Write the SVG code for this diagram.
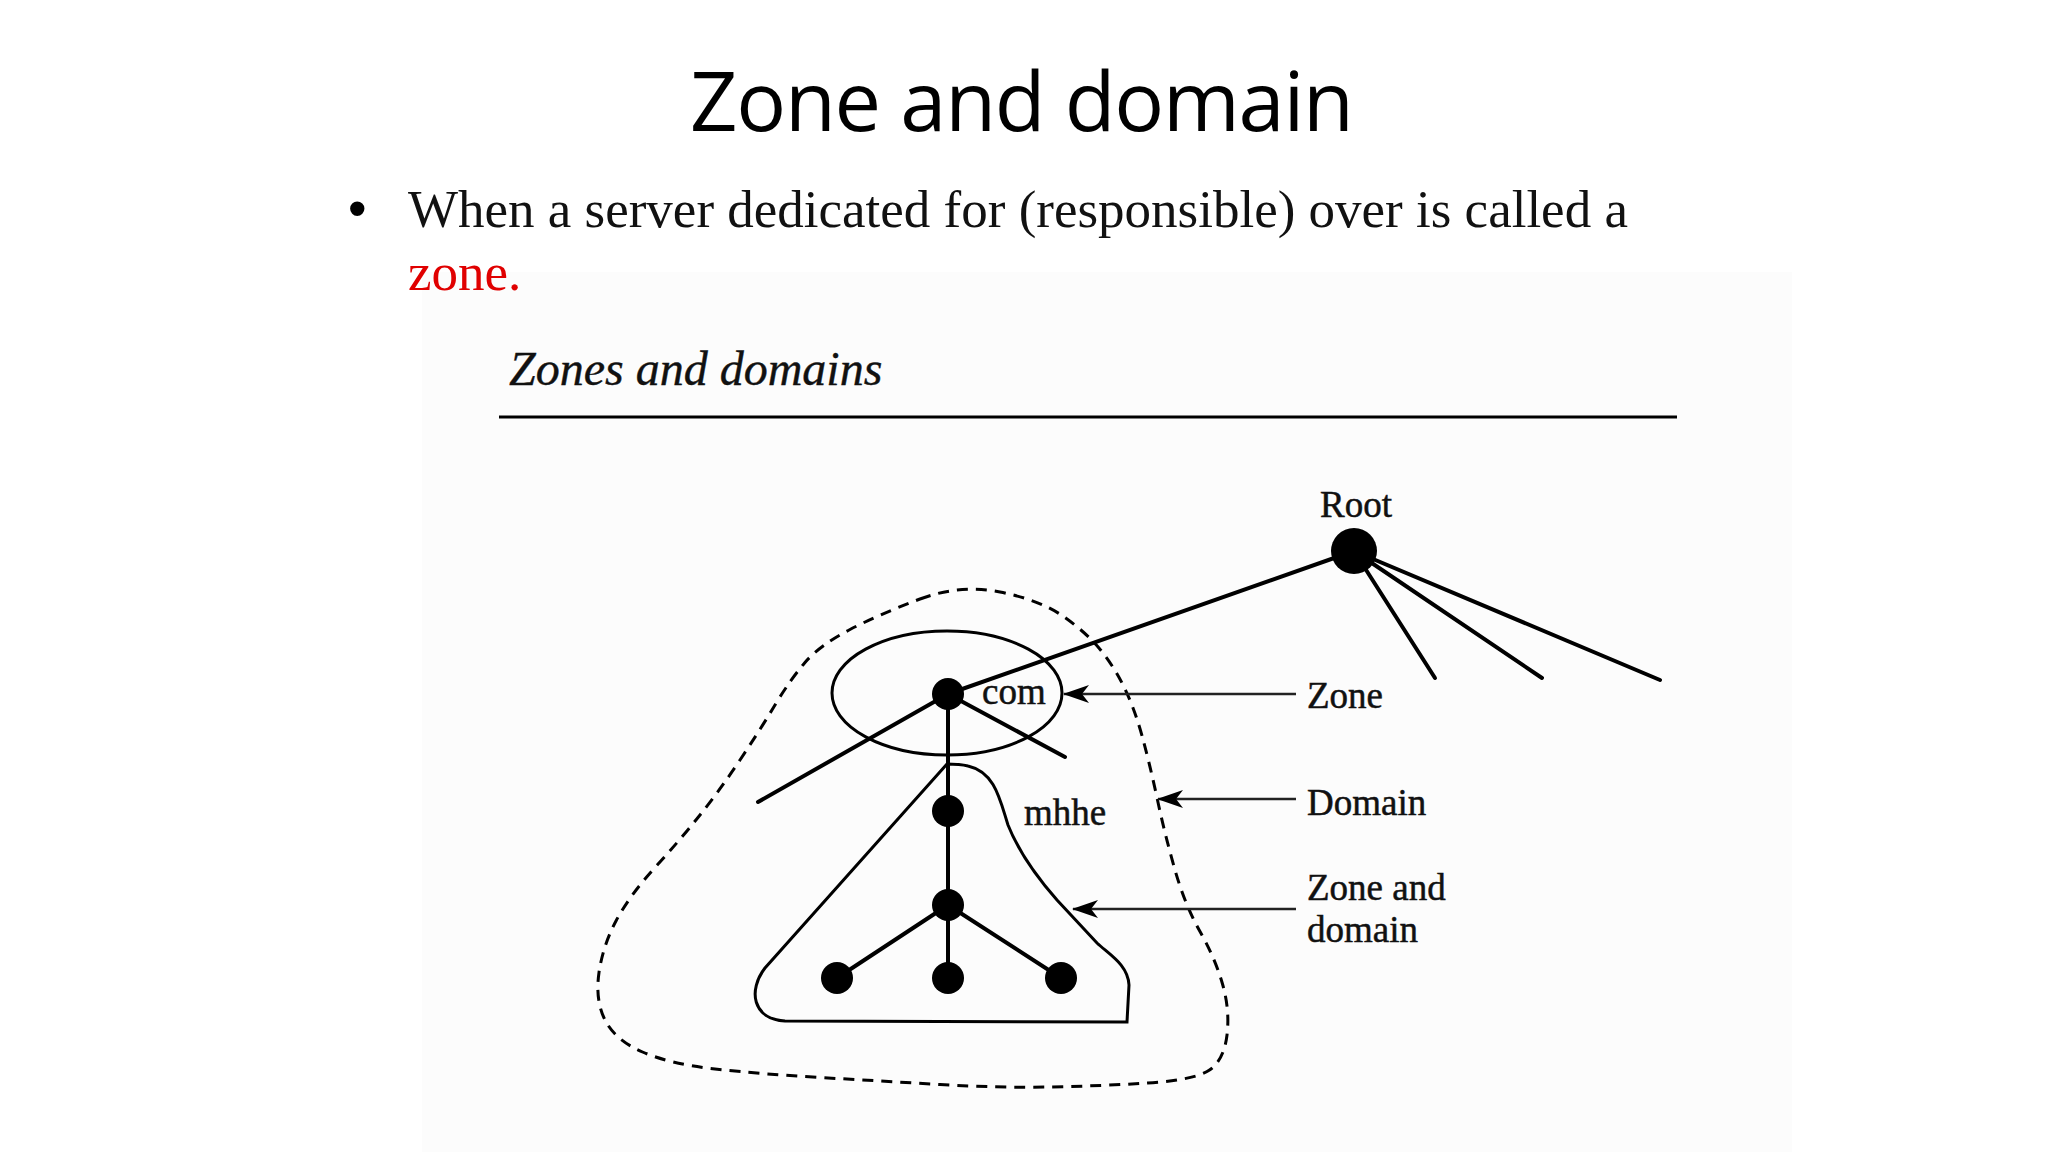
<svg xmlns="http://www.w3.org/2000/svg" width="2048" height="1152" viewBox="0 0 2048 1152">
<style>
.serif{font-family:"Liberation Serif","Times New Roman",serif;fill:#111}
.lbl{font-size:37px;stroke:#111;stroke-width:0.5}
.edge{stroke:#000;stroke-width:4;stroke-linecap:round;fill:none}
.thin{stroke:#000;stroke-width:3;fill:none}
.arr{stroke:#222;stroke-width:2.5;fill:none;marker-end:url(#ah)}
.node{fill:#000}
</style>
<defs>
<marker id="ah" viewBox="0 0 26 20" refX="25" refY="10" markerWidth="26" markerHeight="20" markerUnits="userSpaceOnUse" orient="auto">
<path d="M26,10 L0,1 L7,10 L0,19 Z" fill="#000"/>
</marker>
</defs>
<rect width="2048" height="1152" fill="#fff"/>
<rect x="422" y="272" width="1370" height="880" fill="#fcfcfc"/>

<g id="title">
<text x="1022" y="131" text-anchor="middle" font-family="'Open Sans','Noto Sans',sans-serif" font-size="83" textLength="664" fill="#000">Zone and domain</text>
</g>
<g id="bullet">
<text x="348" y="227" font-family="'Liberation Sans',Arial,sans-serif" font-size="53" fill="#000">•</text>
<text class="serif" x="408" y="227" font-size="53">When a server dedicated for (responsible) over is called a</text>
<text x="408" y="290" font-family="'Liberation Serif','Times New Roman',serif" font-size="53" fill="#e00000">zone.</text>
</g>
<g id="figure-caption">
<text class="serif" x="509" y="385" font-size="48" font-style="italic" stroke="#111" stroke-width="0.4">Zones and domains</text>
<line x1="499" y1="417" x2="1677" y2="417" stroke="#000" stroke-width="3"/>
</g>

<g id="domain-outline">
<path d="M920,599 Q960,584 1000,592 Q1040,600 1063.5,616.5 Q1087,633 1101,650.5 Q1115,668 1125,689 Q1135,710 1142.5,737.5 Q1150,765 1157.5,800 Q1165,835 1175,870 Q1185,905 1200,931.5 Q1215,958 1222.5,984 Q1230,1010 1227,1035 Q1224,1060 1209.5,1070 Q1195,1080 1147.5,1083 Q1100,1086 1050,1087 Q1000,1088 940,1084.5 Q880,1081 820,1077.5 Q760,1074 715,1069 Q670,1064 642.5,1052 Q615,1040 605,1020 Q595,1000 599,972.5 Q603,945 616.5,920 Q630,895 655,867.5 Q680,840 700,815 Q720,790 740,760 Q760,730 775,705 Q790,680 805,662.5 Q820,645 850,629.5 Q880,614 920,599 Z" fill="none" stroke="#000" stroke-width="3" stroke-dasharray="11 8"/>
</g>
<g id="zone-outline">
<ellipse cx="947" cy="693" rx="115" ry="62" class="thin"/>
</g>
<g id="zone-and-domain-outline">
<path d="M947,764 L765,968 C748,990 752,1019 785,1021 L1127,1022 L1129,985 C1128,965 1110,955 1097,943 L1057,900 C1035,875 1018,850 1008,825 C1000,800 995,772 968,766 C960,764 952,764 947,764 Z" class="thin"/>
</g>

<g id="connectors">
<line class="edge" x1="1354" y1="551" x2="948" y2="694"/>
<line class="edge" x1="1354" y1="551" x2="1435" y2="678"/>
<line class="edge" x1="1354" y1="551" x2="1542" y2="678"/>
<line class="edge" x1="1354" y1="551" x2="1660" y2="680"/>
<line class="edge" x1="948" y1="694" x2="758" y2="802"/>
<line class="edge" x1="948" y1="694" x2="1065" y2="757"/>
<line class="edge" x1="948" y1="694" x2="948" y2="978"/>
<line class="edge" x1="948" y1="905" x2="837" y2="978"/>
<line class="edge" x1="948" y1="905" x2="1061" y2="978"/>
<line class="arr" x1="1296" y1="694" x2="1064" y2="694"/>
<line class="arr" x1="1296" y1="799" x2="1158" y2="799"/>
<line class="arr" x1="1296" y1="909" x2="1073" y2="909"/>
</g>

<g id="root"><circle class="node" cx="1354" cy="551" r="23"/><text class="serif lbl" x="1356" y="517" text-anchor="middle">Root</text></g>
<g id="com"><circle class="node" cx="948" cy="694" r="16"/><text class="serif lbl" x="982" y="704">com</text></g>
<g id="mhhe"><circle class="node" cx="948" cy="811" r="16"/><text class="serif lbl" x="1024" y="825">mhhe</text></g>
<g id="mid"><circle class="node" cx="948" cy="905" r="16"/></g>
<g id="leaf1"><circle class="node" cx="837" cy="978" r="16"/></g>
<g id="leaf2"><circle class="node" cx="948" cy="978" r="16"/></g>
<g id="leaf3"><circle class="node" cx="1061" cy="978" r="16"/></g>

<g id="label-zone"><text class="serif lbl" x="1307" y="708">Zone</text></g>
<g id="label-domain"><text class="serif lbl" x="1307" y="815">Domain</text></g>
<g id="label-zone-domain"><text class="serif lbl" x="1307" y="900">Zone and</text><text class="serif lbl" x="1307" y="942">domain</text></g>
</svg>
